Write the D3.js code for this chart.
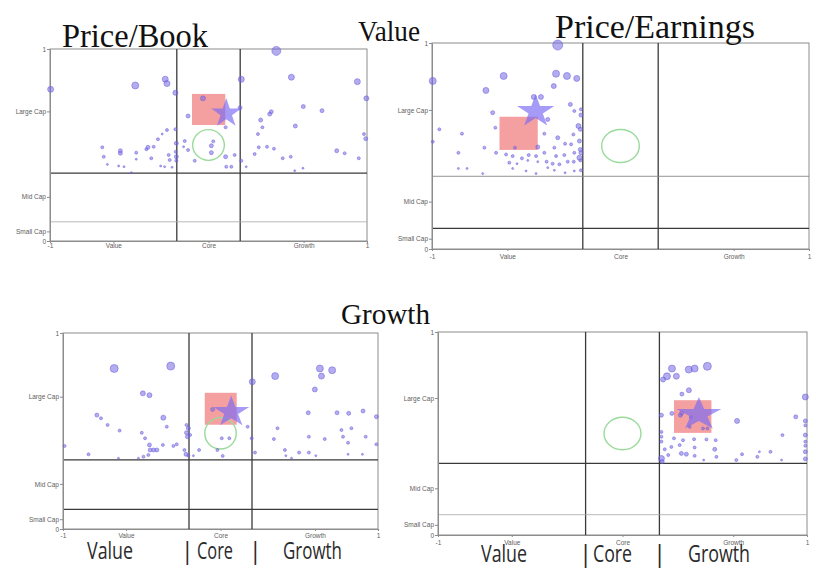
<!DOCTYPE html>
<html><head><meta charset="utf-8">
<script src="https://cdn.jsdelivr.net/npm/d3@7"></script>
<style>body{margin:0;background:#fff}svg{display:block}</style>
</head><body><svg id="c" width="816" height="569"></svg>
<script>
// ---------- DATA ----------
const xTickValues = [-1, -0.6, 0, 0.6, 1];
const xTickLabels = ["-1", "Value", "Core", "Growth", "1"];
const yTickValues = [0, 0.05, 0.23, 0.675, 1];
const yTickLabels = ["0", "Small Cap", "Mid Cap", "Large Cap", "1"];
const styleBounds = [-0.2, 0.2];
const capBounds = [0.353, 0.1];

// holdings: [style score, size score, weight]
const pbValueHoldings = [
[0.428,0.99,4.0],[-0.996,0.79,1.8],[-0.462,0.81,2.45],[-0.273,0.843,1.8],[-0.262,0.82,1.8],
[-0.209,0.772,1.25],[0.207,0.842,1.8],[0.523,0.853,1.8],[0.939,0.83,1.8],[0.996,0.743,1.25],
[-0.035,0.743,1.25],[-0.129,0.651,0.8],[0.199,0.694,0.8],[0.108,0.592,0.45],[0.386,0.661,0.8],
[0.396,0.673,0.8],[0.329,0.63,0.8],[0.34,0.592,0.45],[0.312,0.557,0.45],[0.548,0.599,0.8],
[0.598,0.70,0.8],[0.716,0.679,0.8],[0.981,0.557,0.45],[0.992,0.533,0.8],[0.317,0.488,0.45],
[0.369,0.491,0.45],[0.413,0.481,0.45],[0.291,0.453,0.45],[0.468,0.431,0.45],[0.519,0.439,0.45],
[0.809,0.47,0.8],[0.859,0.457,0.45],[0.948,0.431,0.45],[0.596,0.379,0.2],[0.544,0.366,0.2],
[0.238,0.387,0.2],[0.207,0.418,0.45],[0.165,0.448,0.45],[0.108,0.439,0.8],[0.112,0.387,0.45],
[0.144,0.387,0.45],[0.03,0.519,0.45],[0.018,0.496,0.8],[0.018,0.46,0.8],[-0.087,0.418,0.45],
[-0.15,0.521,0.45],[-0.157,0.491,0.2],[-0.129,0.474,0.45],[-0.209,0.582,0.45],[-0.203,0.509,0.8],
[-0.207,0.465,0.45],[-0.203,0.439,0.8],[-0.203,0.418,0.45],[-0.251,0.448,0.45],[-0.245,0.422,0.45],
[-0.262,0.578,0.45],[-0.292,0.557,0.2],[-0.319,0.53,0.45],[-0.346,0.491,0.45],[-0.382,0.488,0.8],
[-0.392,0.478,0.45],[-0.361,0.431,0.45],[-0.456,0.46,0.45],[-0.556,0.47,0.8],[-0.556,0.457,0.8],
[-0.67,0.488,0.45],[-0.661,0.439,0.45],[-0.638,0.399,0.2],[-0.567,0.391,0.2],[-0.533,0.387,0.2],
[-0.456,0.426,0.2],[-0.302,0.391,0.2],[-0.277,0.387,0.2],[-0.23,0.384,0.2],[-0.487,0.356,0.2]
];
const peValueHoldings = [
[-0.333,0.99,5.0],[-0.996,0.816,2.45],[-0.62,0.84,2.45],[-0.714,0.77,1.8],[-0.342,0.851,2.45],
[-0.284,0.84,2.45],[-0.232,0.828,1.8],[-0.354,0.791,1.25],[-0.46,0.738,1.25],[-0.422,0.738,1.25],
[-0.266,0.702,0.8],[-0.245,0.67,0.45],[-0.21,0.678,0.45],[-0.21,0.65,0.8],[-0.678,0.662,0.8],
[-0.386,0.629,0.8],[-0.664,0.589,0.45],[-0.223,0.597,1.25],[-0.213,0.581,0.8],[-0.961,0.581,0.45],
[-0.841,0.56,0.45],[-0.404,0.56,0.45],[-0.333,0.54,0.8],[-0.25,0.556,0.45],[-0.294,0.511,0.45],
[-0.262,0.508,0.45],[-0.218,0.524,0.8],[-0.213,0.483,0.8],[-0.996,0.521,0.45],[-0.86,0.467,0.45],
[-0.722,0.492,0.45],[-0.66,0.467,0.45],[-0.56,0.492,0.45],[-0.439,0.495,0.8],[-0.607,0.459,0.45],
[-0.572,0.451,0.45],[-0.523,0.44,0.45],[-0.487,0.456,0.45],[-0.448,0.451,0.45],[-0.404,0.467,0.45],
[-0.351,0.492,0.45],[-0.342,0.451,0.45],[-0.298,0.456,0.45],[-0.245,0.467,0.45],[-0.218,0.443,1.25],
[-0.21,0.467,0.8],[-0.59,0.419,0.45],[-0.549,0.414,0.2],[-0.492,0.43,0.2],[-0.439,0.424,0.2],
[-0.392,0.424,0.45],[-0.36,0.414,0.45],[-0.324,0.411,0.45],[-0.28,0.424,0.45],[-0.248,0.424,0.45],
[-0.213,0.43,0.45],[-0.86,0.391,0.2],[-0.814,0.391,0.2],[-0.731,0.366,0.2],[-0.572,0.391,0.2],
[-0.501,0.379,0.2],[-0.448,0.366,0.2],[-0.386,0.395,0.2],[-0.351,0.382,0.2],[-0.294,0.37,0.2],
[-0.245,0.379,0.2],[-0.21,0.382,0.45]
];
const pbGrowthHoldings = [
[-0.675,0.819,3.2],[-0.316,0.831,3.2],[0.202,0.751,1.8],[0.347,0.78,2.45],[0.631,0.819,2.45],
[0.709,0.81,2.45],[0.641,0.78,1.8],[0.599,0.712,1.25],[-0.493,0.692,1.25],[-0.451,0.683,1.25],
[-0.785,0.581,0.8],[-0.759,0.565,0.45],[-0.717,0.531,0.45],[-0.641,0.502,0.45],[-0.363,0.568,1.25],
[-0.341,0.522,0.45],[-0.5,0.491,0.45],[-0.479,0.463,0.45],[-0.451,0.429,0.8],[-0.447,0.403,0.8],
[-0.425,0.403,0.8],[-0.404,0.403,0.8],[-0.366,0.429,0.45],[-0.299,0.424,0.45],[-0.278,0.432,0.45],
[-0.458,0.378,0.45],[-0.489,0.369,0.45],[-0.521,0.361,0.2],[-0.648,0.361,0.2],[-0.838,0.381,0.45],
[-0.99,0.424,0.45],[-0.216,0.531,0.45],[-0.204,0.514,0.8],[-0.216,0.491,0.8],[-0.21,0.471,0.8],
[-0.193,0.48,0.45],[-0.229,0.403,0.45],[-0.219,0.381,0.8],[-0.204,0.374,0.45],[-0.172,0.374,0.2],
[-0.136,0.403,0.45],[-0.02,0.403,0.45],[0.014,0.373,0.45],[0.008,0.463,0.45],[0.056,0.463,0.45],
[0.172,0.522,0.45],[0.198,0.463,0.45],[0.219,0.39,0.45],[0.362,0.514,0.45],[0.339,0.459,0.45],
[0.409,0.403,0.45],[0.415,0.374,0.2],[0.451,0.361,0.2],[0.499,0.39,0.45],[0.561,0.39,0.45],
[0.605,0.374,0.2],[0.557,0.593,0.8],[0.561,0.471,0.45],[0.662,0.459,0.45],[0.74,0.593,0.8],
[0.814,0.59,0.8],[0.905,0.602,0.8],[0.99,0.573,0.8],[0.778,0.471,0.45],[0.768,0.505,0.45],
[0.831,0.514,0.45],[0.81,0.44,0.45],[0.922,0.471,0.45],[0.99,0.432,0.45],[0.81,0.381,0.2],
[0.901,0.381,0.2],[-0.05,0.61,0.8]
];
const peGrowthHoldings = [
[0.268,0.82,2.45],[0.359,0.815,2.45],[0.391,0.82,2.45],[0.46,0.831,3.2],[0.241,0.782,2.45],
[0.292,0.782,1.8],[0.22,0.766,1.25],[0.36,0.713,1.25],[0.322,0.694,0.8],[0.991,0.68,1.8],
[0.211,0.59,0.8],[0.268,0.599,0.8],[0.314,0.59,0.8],[0.621,0.562,1.25],[0.939,0.582,0.8],
[0.991,0.562,0.8],[0.991,0.54,0.45],[0.364,0.533,0.45],[0.436,0.525,0.45],[0.46,0.525,0.45],
[0.211,0.508,0.45],[0.211,0.484,0.45],[0.211,0.46,0.45],[0.867,0.492,0.45],[0.991,0.492,0.8],
[0.991,0.46,0.45],[0.991,0.44,0.45],[0.991,0.41,0.8],[0.991,0.375,0.8],[0.279,0.476,0.45],
[0.328,0.467,0.45],[0.388,0.472,0.45],[0.31,0.443,0.45],[0.391,0.431,0.45],[0.455,0.471,0.45],
[0.505,0.467,0.45],[0.5,0.422,0.8],[0.229,0.422,0.45],[0.265,0.434,0.45],[0.319,0.402,0.8],
[0.346,0.398,0.8],[0.391,0.39,0.45],[0.248,0.394,0.45],[0.211,0.377,1.8],[0.215,0.362,0.8],
[0.44,0.369,0.2],[0.509,0.385,0.45],[0.617,0.369,0.45],[0.648,0.398,0.45],[0.731,0.385,0.45],
[0.742,0.41,0.2],[0.802,0.41,0.45],[0.862,0.369,0.2],[0.32,0.6,0.8],[0.37,0.58,0.45]
];

// style ranges [x0, x1, y0, y1], portfolio centroids [x, y], targets [x, y]
const pbValueRange = [-0.104, 0.106, 0.604, 0.766];
const peValueRange = [-0.642, -0.439, 0.481, 0.642];
const pbGrowthRange = [-0.100, 0.103, 0.532, 0.695];
const peGrowthRange = [0.279, 0.482, 0.503, 0.664];
const pbValueCentroid = [0.112, 0.665];
const peValueCentroid = [-0.450, 0.668];
const pbGrowthCentroid = [0.068, 0.597];
const peGrowthCentroid = [0.414, 0.594];
const pbValueTarget = [0.0, 0.5];
const peValueTarget = [0.0, 0.5];
const pbGrowthTarget = [0.0, 0.488];
const peGrowthTarget = [0.0, 0.5];
const targetSpread = [0.1, 0.08];

const titles = [
  {text: "Price/Book", x: 62, y: 47, size: 33, len: 146},
  {text: "Value", x: 358, y: 41, size: 29, len: 62},
  {text: "Price/Earnings", x: 555, y: 38, size: 34, len: 200},
  {text: "Growth", x: 341, y: 324, size: 29, len: 89}
];
const bottomLabels = ["Value", "|", "Core", "|", "Growth"];

// ---------- LAYOUT / STYLE ----------
const dark = "#3a3a3a", light = "#a8a8a8";
const panels = [
  {box: [50, 49, 367, 241], holdings: pbValueHoldings, range: pbValueRange, centroid: pbValueCentroid, target: pbValueTarget,
   hStyle: [{c: dark, w: 1.3}, {c: light, w: 0.8}], xPad: 0, starR: 15.3, starSx: 1.03},
  {box: [432, 43, 809, 249], holdings: peValueHoldings, range: peValueRange, centroid: peValueCentroid, target: peValueTarget,
   hStyle: [{c: "#888", w: 0.9}, {c: dark, w: 1.4}], xPad: 3, starR: 17.5, starSx: 1.12},
  {box: [63, 333, 378, 529], holdings: pbGrowthHoldings, range: pbGrowthRange, centroid: pbGrowthCentroid, target: pbGrowthTarget,
   hStyle: [{c: dark, w: 1.3}, {c: dark, w: 1.3}], xPad: 2, starR: 16.5, starSx: 1.15},
  {box: [438, 332, 807, 535], holdings: peGrowthHoldings, range: peGrowthRange, centroid: peGrowthCentroid, target: peGrowthTarget,
   hStyle: [{c: dark, w: 1.3}, {c: light, w: 0.8}], xPad: 3, starR: 17.5, starSx: 1.35}
];
const bottomRows = [
  {y: 559, size: 23, items: [{x: 87, len: 46}, {x: 181, len: 0}, {x: 197, len: 36}, {x: 249, len: 0}, {x: 283, len: 59}]},
  {y: 562, size: 24, items: [{x: 481, len: 46}, {x: 579, len: 0}, {x: 593, len: 39}, {x: 653, len: 0}, {x: 688, len: 62}]}
];

const svg = d3.select("#c");
const rScale = d3.scaleSqrt().domain([0, 5]).range([0, 5]);

function drawPanel(p) {
  const [L, T, R, B] = p.box;
  const x = d3.scaleLinear().domain([-1, 1]).range([L, R]);
  const y = d3.scaleLinear().domain([0, 1]).range([B, T]);
  const g = svg.append("g");

  g.append("rect").attr("x", L).attr("y", T).attr("width", R - L).attr("height", B - T)
    .attr("fill", "none").attr("stroke", "#8c8c8c").attr("stroke-width", 1);

  g.selectAll(".v").data(styleBounds).join("line")
    .attr("x1", d => x(d)).attr("x2", d => x(d)).attr("y1", T).attr("y2", B)
    .attr("stroke", dark).attr("stroke-width", 1.3);
  g.selectAll(".h").data(capBounds).join("line")
    .attr("x1", L).attr("x2", R).attr("y1", d => y(d)).attr("y2", d => y(d))
    .attr("stroke", (d, i) => p.hStyle[i].c).attr("stroke-width", (d, i) => p.hStyle[i].w);

  const ya = d3.axisLeft(y).tickValues(yTickValues).tickFormat((d, i) => yTickLabels[i])
    .tickSize(3).tickSizeOuter(0).tickPadding(1);
  const xa = d3.axisBottom(x).tickValues(xTickValues).tickFormat((d, i) => xTickLabels[i])
    .tickSize(2).tickSizeOuter(0).tickPadding(p.xPad);
  [g.append("g").attr("transform", `translate(${L},0)`).call(ya),
   g.append("g").attr("transform", `translate(0,${B})`).call(xa)].forEach(a => {
    a.select(".domain").attr("stroke", "#8c8c8c");
    a.selectAll(".tick line").attr("stroke", "#8c8c8c");
    a.selectAll(".tick text").attr("fill", "#5e5e5e").attr("font-size", 6.5)
      .attr("font-family", "Liberation Sans, Arial, sans-serif");
  });

  const rg = p.range;
  g.append("rect").attr("x", x(rg[0])).attr("y", y(rg[3]))
    .attr("width", x(rg[1]) - x(rg[0])).attr("height", y(rg[2]) - y(rg[3]))
    .attr("fill", "#f5a0a0");

  g.append("ellipse").attr("cx", x(p.target[0])).attr("cy", y(p.target[1]))
    .attr("rx", x(p.target[0] + targetSpread[0]) - x(p.target[0]))
    .attr("ry", y(p.target[1]) - y(p.target[1] + targetSpread[1]))
    .attr("fill", "none").attr("stroke", "#9ada9a").attr("stroke-width", 1.4);

  g.selectAll(".pt").data(p.holdings).join("circle")
    .attr("cx", d => x(d[0])).attr("cy", d => y(d[1])).attr("r", d => rScale(d[2]))
    .attr("fill", "#7468e2").attr("fill-opacity", 0.55)
    .attr("stroke", "#6b5fdc").attr("stroke-opacity", 0.75).attr("stroke-width", 0.7);

  const sym = d3.symbol().type(d3.symbolStar).size(p.starR * p.starR / 0.8908130915);
  g.append("path").attr("d", sym())
    .attr("transform", `translate(${x(p.centroid[0])},${y(p.centroid[1])}) scale(${p.starSx},1)`)
    .attr("fill", "#7c6cf2").attr("fill-opacity", 0.68);
}
panels.forEach(drawPanel);

svg.selectAll(".title").data(titles).join("text")
  .attr("x", d => d.x).attr("y", d => d.y).text(d => d.text)
  .attr("font-family", "Liberation Serif, Times New Roman, serif").attr("font-size", d => d.size)
  .attr("textLength", d => d.len).attr("lengthAdjust", "spacingAndGlyphs").attr("fill", "#111");

bottomRows.forEach(row => {
  svg.append("g").selectAll("text").data(row.items).join("text")
    .attr("x", d => d.x).attr("y", row.y).text((d, i) => bottomLabels[i])
    .attr("font-family", "Open Sans, Liberation Sans, sans-serif").attr("font-size", row.size)
    .attr("fill", "#2a2a2a")
    .each(function (d) {
      if (d.len) d3.select(this).attr("textLength", d.len).attr("lengthAdjust", "spacingAndGlyphs");
    });
});
</script></body></html>
